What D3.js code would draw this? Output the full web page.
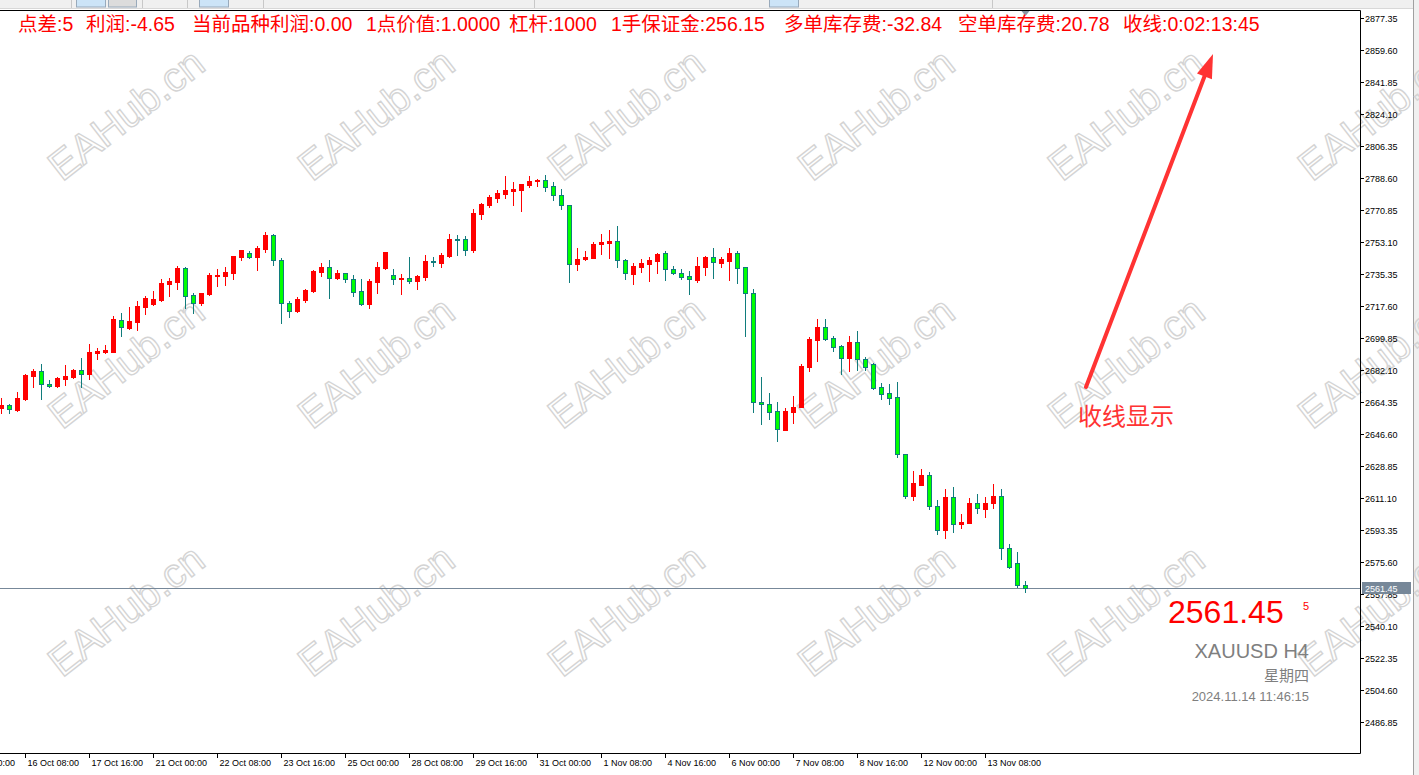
<!DOCTYPE html>
<html><head><meta charset="utf-8">
<script src="https://cdn.jsdelivr.net/npm/d3@7"></script>
<style>
html,body{margin:0;padding:0;background:#fff;overflow:hidden}
svg{display:block}
</style></head><body>
<svg id="c" width="1419" height="775"></svg>
<script>
// ---------- DATA ----------
const opens = [2661.2,2662.5,2659.9,2665.8,2678.9,2681.3,2674.2,2673.4,2676.9,2678.4,
2682.1,2680.0,2691.5,2691.9,2692.3,2710.0,2705.5,2708.8,2717.2,2718.7,
2721.0,2729.8,2731.1,2738.5,2723.5,2719.4,2724.2,2734.2,2734.2,2736.0,
2744.9,2746.8,2744.9,2749.2,2757.0,2743.1,2719.1,2714.9,2721.0,2726.0,
2736.6,2739.0,2732.9,2735.7,2732.5,2726.0,2718.7,2730.9,2738.5,2734.6,
2732.4,2733.1,2731.6,2733.8,2742.7,2741.6,2745.3,2754.8,2754.6,2748.6,
2768.6,2773.6,2777.7,2779.9,2781.4,2781.9,2784.5,2787.1,2787.3,2784.0,
2779.0,2773.5,2740.7,2743.5,2744.4,2752.2,2752.7,2753.6,2743.1,2735.5,
2739.4,2741.0,2742.7,2746.8,2738.0,2735.7,2734.1,2732.2,2739.4,2744.8,
2741.6,2742.7,2746.8,2739.0,2724.6,2664.3,2663.2,2659.2,2649.0,2659.0,
2661.7,2683.9,2698.9,2705.8,2699.7,2695.4,2688.9,2697.6,2688.2,2685.2,
2672.7,2669.2,2666.9,2635.3,2612.3,2618.5,2623.8,2606.7,2593.2,2611.6,
2596.8,2597.4,2608.3,2605.1,2608.5,2612.2,2583.2,2575.0,2562.8];
const highs = [2666.4,2663.1,2670.1,2679.9,2682.6,2685.4,2676.3,2678.1,2684.9,2682.5,
2688.6,2696.5,2694.4,2696.0,2712.2,2713.5,2717.2,2720.3,2723.1,2726.1,
2732.7,2733.3,2739.6,2739.0,2724.9,2724.9,2735.9,2738.1,2739.0,2745.4,
2748.6,2748.2,2750.8,2758.6,2757.5,2744.2,2720.3,2722.5,2727.1,2737.8,
2741.4,2743.1,2737.4,2736.1,2734.6,2732.5,2732.5,2742.0,2747.5,2737.9,
2735.3,2744.7,2734.8,2745.9,2744.7,2746.9,2757.5,2757.0,2756.4,2771.4,
2774.9,2779.2,2781.9,2789.9,2786.4,2785.3,2789.7,2788.0,2790.3,2786.2,
2782.3,2773.6,2749.7,2748.1,2753.3,2757.5,2759.7,2762.1,2743.8,2741.4,
2743.7,2744.8,2747.0,2748.1,2739.8,2738.1,2737.0,2744.8,2745.3,2749.7,
2744.8,2749.7,2748.1,2739.4,2727.0,2678.4,2669.2,2664.2,2660.8,2667.7,
2685.4,2700.4,2710.4,2710.4,2700.9,2696.0,2700.9,2703.9,2689.1,2686.1,
2674.9,2674.3,2675.3,2635.3,2626.1,2627.2,2625.5,2610.0,2616.1,2617.4,
2602.2,2611.2,2613.3,2611.8,2618.9,2616.1,2585.6,2581.3,2565.0];
const lows = [2658.4,2658.4,2659.5,2665.5,2672.8,2666.2,2672.5,2672.8,2673.9,2677.8,
2672.8,2677.3,2688.3,2691.4,2692.1,2701.1,2705.1,2704.2,2713.1,2718.3,
2720.4,2723.1,2727.2,2716.6,2713.9,2718.3,2723.7,2728.7,2729.2,2732.7,
2742.9,2744.0,2737.5,2747.5,2740.5,2708.3,2711.6,2714.5,2720.0,2725.6,
2734.2,2722.2,2732.5,2731.1,2723.3,2718.3,2716.6,2724.9,2738.1,2729.8,
2724.4,2730.5,2727.0,2732.0,2739.8,2739.4,2744.7,2745.9,2745.9,2747.7,
2765.8,2772.6,2775.3,2777.7,2773.6,2770.5,2783.8,2784.3,2781.5,2776.4,
2771.6,2731.1,2737.5,2743.1,2744.0,2746.4,2744.2,2739.4,2732.7,2730.0,
2736.6,2731.6,2736.1,2731.8,2735.2,2732.5,2724.4,2731.1,2735.0,2732.9,
2739.1,2732.2,2730.2,2700.9,2659.0,2652.0,2654.9,2642.9,2649.0,2652.5,
2661.4,2681.7,2687.2,2698.9,2692.8,2680.0,2681.7,2682.2,2682.2,2671.5,
2666.2,2663.2,2634.0,2611.2,2610.1,2618.5,2605.0,2591.0,2589.1,2592.4,
2594.6,2597.4,2602.8,2600.7,2605.7,2577.4,2572.2,2561.9,2558.8];
const closes = [2662.7,2660.3,2666.4,2679.3,2681.5,2674.2,2673.2,2677.5,2678.6,2682.1,
2680.0,2692.1,2692.7,2693.2,2710.2,2706.2,2709.2,2717.5,2722.2,2721.5,
2730.3,2731.4,2738.6,2723.3,2719.1,2724.6,2734.8,2734.8,2736.4,2745.3,
2748.6,2744.9,2749.7,2757.0,2743.0,2719.1,2715.0,2721.5,2726.5,2737.0,
2739.2,2733.3,2735.7,2732.4,2725.6,2718.7,2731.4,2739.2,2747.5,2732.4,
2733.1,2731.6,2734.2,2742.6,2741.8,2745.7,2754.8,2754.2,2748.6,2769.0,
2774.3,2777.9,2780.3,2781.9,2782.5,2785.2,2786.9,2787.5,2783.8,2779.0,
2773.5,2740.7,2743.7,2744.8,2752.0,2753.3,2753.8,2743.0,2735.7,2739.8,
2741.4,2743.1,2746.4,2738.0,2736.1,2733.8,2732.4,2739.8,2744.8,2741.8,
2743.7,2747.0,2738.5,2724.6,2664.2,2663.1,2658.6,2649.2,2659.2,2661.4,
2684.3,2699.3,2705.8,2699.3,2695.0,2688.9,2697.6,2688.0,2683.9,2672.3,
2669.0,2666.7,2635.3,2612.3,2619.4,2623.8,2606.5,2593.2,2611.6,2596.8,
2597.8,2608.3,2605.4,2608.3,2612.2,2583.2,2572.6,2562.7,2561.45];

const yTickLabels = ["2877.35","2859.60","2841.85","2824.10","2806.35","2788.60","2770.85",
"2753.10","2735.35","2717.60","2699.85","2682.10","2664.35","2646.60","2628.85","2611.10",
"2593.35","2575.60","2557.85","2540.10","2522.35","2504.60","2486.85"];
const xTickLabels = ["15 Oct 00:00","16 Oct 08:00","17 Oct 16:00","21 Oct 00:00","22 Oct 08:00",
"23 Oct 16:00","25 Oct 00:00","28 Oct 08:00","29 Oct 16:00","31 Oct 00:00","1 Nov 08:00",
"4 Nov 16:00","6 Nov 00:00","7 Nov 08:00","8 Nov 16:00","12 Nov 00:00","13 Nov 08:00"];
const xTickBars = [-5,3,11,19,27,35,43,51,59,67,75,83,91,99,107,115,123];

const lastPrice = 2561.45;
const infoItems = ["点差:5","利润:-4.65","当前品种利润:0.00","1点价值:1.0000","杠杆:1000",
"1手保证金:256.15","多单库存费:-32.84","空单库存费:20.78","收线:0:02:13:45"];
const infoX = [18,86,192,366,509,611,784,958,1123];
const symbolText = "XAUUSD H4", weekdayText = "星期四", timeText = "2024.11.14 11:46:15", spreadText = "5";
const noteText = "收线显示";
const watermark = "EAHub.cn";

// ---------- LAYOUT ----------
const W = 1419, H = 775;
const plotLeft = 0, plotRight = 1360, plotTop = 11, plotBottom = 753;
const RED = "#ff0000", LIME = "#00ff00", TEAL = "#107c7c", SLATE = "#778899";
const svg = d3.select("#c");
const n = opens.length;
const barStep = 8;
const x = d3.scaleLinear().domain([0, n - 1]).range([1.5, 1.5 + barStep * (n - 1)]);
const y = d3.scaleLinear()
  .domain([+yTickLabels[0], +yTickLabels[yTickLabels.length - 1]])
  .range([18, 18 + 32 * (yTickLabels.length - 1)]);
const py = v => Math.round(y(v));

svg.append("rect").attr("width", W).attr("height", H).attr("fill", "#fff");

// window chrome
svg.append("rect").attr("x",0).attr("y",0).attr("width",W).attr("height",9).attr("fill","#f0f0f0");
svg.append("line").attr("x1",0).attr("x2",W).attr("y1",8.5).attr("y2",8.5).attr("stroke","#d8d8d8");
[[71],[142],[187],[263],[534],[992]].forEach(([sx])=>{
  svg.append("line").attr("x1",sx+0.5).attr("x2",sx+0.5).attr("y1",0).attr("y2",8).attr("stroke","#c8c8c8");
});
[[76,29,"#cce4f7"],[108,28,"#dcdcdc"],[199,29,"#cce4f7"],[769,29,"#cce4f7"]].forEach(([bx,bw,bc])=>{
  svg.append("rect").attr("x",bx+0.5).attr("y",-1).attr("width",bw).attr("height",8).attr("fill",bc).attr("stroke","#9ab");
});
svg.append("rect").attr("x",1413).attr("y",0).attr("width",6).attr("height",H).attr("fill","#f0f0f0");
svg.append("line").attr("x1",1413.5).attr("x2",1413.5).attr("y1",0).attr("y2",H).attr("stroke","#a0a0a0");

// watermarks
const wm = svg.append("g");
for (let r = 0; r < 3; r++) for (let k = 0; k < 6; k++) {
  wm.append("text")
    .attr("transform", `translate(${128 + 250 * k},${117 + 248 * r}) rotate(-38)`)
    .attr("text-anchor", "middle").attr("dominant-baseline", "middle")
    .attr("font-family", "Liberation Sans, Arial, sans-serif").attr("font-size", 41)
    .attr("fill", "none").attr("stroke", "#d4d4d4").attr("stroke-width", 1.4)
    .text(watermark);
}

// clip
svg.append("defs").append("clipPath").attr("id","clip").append("rect")
  .attr("x",plotLeft).attr("y",plotTop).attr("width",plotRight-plotLeft).attr("height",plotBottom-plotTop);

// price line
const plY = py(lastPrice) + 0.5;
svg.append("line").attr("x1",0).attr("x2",plotRight).attr("y1",plY).attr("y2",plY).attr("stroke",SLATE);

// candles
const candles = opens.map((o, i) => ({ i, o, h: highs[i], l: lows[i], c: closes[i], bull: closes[i] >= o }));
const cg = svg.append("g").attr("clip-path","url(#clip)");
cg.selectAll("line.wick").data(candles).join("line").attr("class","wick")
  .attr("x1", d => x(d.i)).attr("x2", d => x(d.i))
  .attr("y1", d => py(d.h)).attr("y2", d => py(d.l) + 1)
  .attr("stroke", d => d.bull ? RED : TEAL);
cg.selectAll("rect.bull").data(candles.filter(d => d.bull)).join("rect").attr("class","bull")
  .attr("x", d => x(d.i) - 2.5).attr("width", 5)
  .attr("y", d => py(d.c)).attr("height", d => Math.max(1, py(d.o) - py(d.c) + 1))
  .attr("fill", RED);
cg.selectAll("rect.bear").data(candles.filter(d => !d.bull)).join("rect").attr("class","bear")
  .attr("x", d => x(d.i) - 2).attr("width", 4)
  .attr("y", d => py(d.o) + 0.5).attr("height", d => Math.max(1, py(d.c) - py(d.o)))
  .attr("fill", LIME).attr("stroke", TEAL);

// frame
svg.append("path").attr("d",`M0,${plotTop-0.5}H${plotRight+0.5}V${plotBottom+0.5}H0`)
  .attr("fill","none").attr("stroke","#000");

// chart shift marker
svg.append("path").attr("d",`M${x(n-1)-4},${plotTop}L${x(n-1)+4},${plotTop}L${x(n-1)},${plotTop+5}Z`).attr("fill","#8a96a3");

// y axis
const ya = svg.append("g").attr("font-family","Liberation Sans, Arial, sans-serif").attr("font-size",9);
yTickLabels.forEach(t => {
  const ty = py(+t) + 0.5;
  ya.append("line").attr("x1",plotRight).attr("x2",plotRight+4).attr("y1",ty).attr("y2",ty).attr("stroke","#000");
  ya.append("text").attr("x",plotRight+5).attr("y",ty).attr("dy","0.35em").attr("fill","#000").text(t);
});
// last price label
ya.append("rect").attr("x",plotRight+2).attr("y",plY-6.5).attr("width",49).attr("height",12).attr("fill",SLATE);
ya.append("text").attr("x",plotRight+5).attr("y",plY).attr("dy","0.35em").attr("fill","#fff").text(lastPrice.toFixed(2));

// x axis
const xa = svg.append("g").attr("font-family","Liberation Sans, Arial, sans-serif").attr("font-size",9);
xTickBars.forEach((b, k) => {
  const tx = x(b);
  xa.append("line").attr("x1",tx).attr("x2",tx).attr("y1",plotBottom).attr("y2",plotBottom+5).attr("stroke","#000");
  xa.append("text").attr("x",tx+2).attr("y",plotBottom+13).attr("fill","#000").text(xTickLabels[k]);
});

// info line
const info = svg.append("g").attr("font-family","Liberation Sans, Arial, Noto Sans CJK SC, sans-serif").attr("font-size",19.5).attr("fill",RED);
infoItems.forEach((t, k) => info.append("text").attr("x", infoX[k]).attr("y", 31).text(t));

// arrow and note
const tail = [1086, 387], tip = [1213, 54];
const dx = tip[0]-tail[0], dy = tip[1]-tail[1], L = Math.hypot(dx,dy), ux = dx/L, uy = dy/L;
const hl = 24, hw = 8;
const bx = tip[0]-hl*ux, by = tip[1]-hl*uy;
svg.append("line").attr("x1",tail[0]).attr("y1",tail[1]).attr("x2",bx+ux*4).attr("y2",by+uy*4)
  .attr("stroke","#f33").attr("stroke-width",4).attr("stroke-linecap","round");
svg.append("path").attr("d",`M${tip[0]},${tip[1]}L${bx-uy*hw},${by+ux*hw}L${bx+uy*hw},${by-ux*hw}Z`).attr("fill","#f33");
svg.append("text").attr("x",1078).attr("y",425).attr("font-family","Noto Sans CJK SC, sans-serif")
  .attr("font-size",24).attr("fill","#f33").text(noteText);

// bottom-right info
const br = svg.append("g").attr("font-family","Liberation Sans, Arial, Noto Sans CJK SC, sans-serif");
br.append("text").attr("x",1168).attr("y",623).attr("font-size",32).attr("fill",RED).text(lastPrice.toFixed(2));
br.append("text").attr("x",1303).attr("y",610).attr("font-size",11).attr("fill",RED).text(spreadText);
br.append("text").attr("x",1309).attr("y",658).attr("text-anchor","end").attr("font-size",20).attr("fill","#7f7f7f").text(symbolText);
br.append("text").attr("x",1309).attr("y",681).attr("text-anchor","end").attr("font-size",15).attr("fill","#7f7f7f").text(weekdayText);
br.append("text").attr("x",1309).attr("y",701).attr("text-anchor","end").attr("font-size",13).attr("fill","#7f7f7f").text(timeText);
</script>
</body></html>
